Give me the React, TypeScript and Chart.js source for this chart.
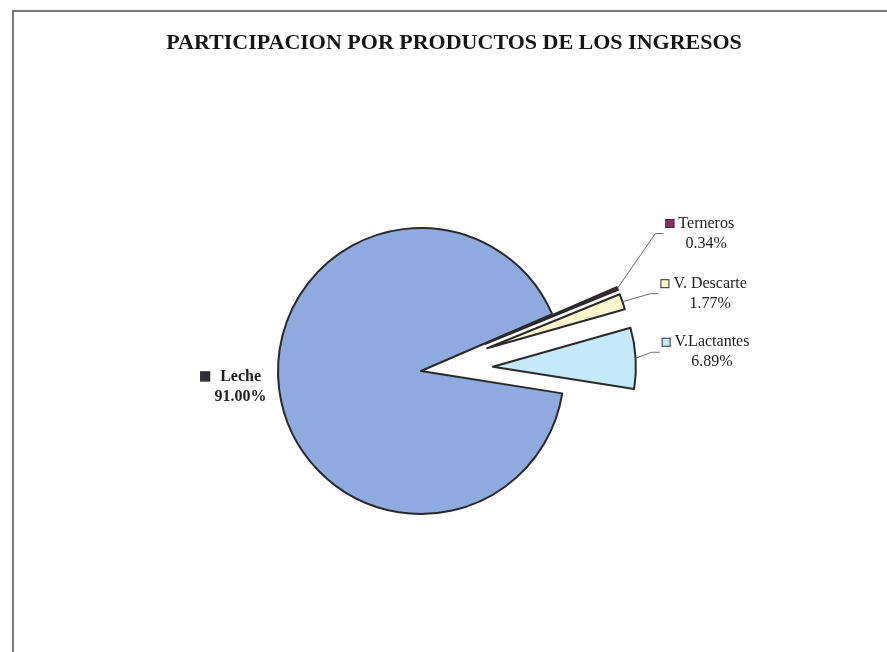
import React, { useEffect, useRef } from "react";
import { Chart, registerables } from "chart.js";

Chart.register(...registerables);

// ---- data ----
const TITLE = "PARTICIPACION POR PRODUCTOS DE LOS INGRESOS";
const categories = ["Leche", "Terneros", "V. Descarte", "V.Lactantes"];
const shares = [91.0, 0.34, 1.77, 6.89];

// ---- styles ----
const fillColors = ["#8FAADF", "#5A2A40", "#F9F7CB", "#C4E9F8"];
const keyColors = ["#2E2E36", "#8B3060", "#F9F7CB", "#C4E9F8"];
const explodePx = [0, 70, 70, 72];
const labelLayout = [
  { dx: -79, dy: -2.5, bold: true, leader: false },
  { dx: 48, dy: -55, bold: false, leader: true },
  { dx: 38, dy: -8, bold: false, leader: true },
  { dx: 26, dy: -6, bold: false, leader: true },
];

const FONT = '"Liberation Serif", "Times New Roman", serif';

const explodePlugin = {
  id: "explode",
  afterDatasetsUpdate(chart: any) {
    const meta = chart.getDatasetMeta(0);
    const ca = chart.chartArea;
    const cx = (ca.left + ca.right) / 2;
    const cy = (ca.top + ca.bottom) / 2;
    meta.data.forEach((arc: any, i: number) => {
      const e = explodePx[i] || 0;
      const mid = (arc.startAngle + arc.endAngle) / 2;
      arc.x = cx + Math.cos(mid) * e;
      arc.y = cy + Math.sin(mid) * e;
    });
  },
};

const decorPlugin = {
  id: "decor",
  beforeDraw(chart: any) {
    const ctx = chart.ctx;
    ctx.save();
    ctx.fillStyle = "#ffffff";
    ctx.fillRect(0, 0, chart.width, chart.height);
    ctx.strokeStyle = "#7a7a7a";
    ctx.lineWidth = 2;
    ctx.strokeRect(13, 11, chart.width + 40, chart.height + 40);
    ctx.restore();
  },
  afterDraw(chart: any) {
    const ctx = chart.ctx;
    ctx.save();
    // title
    ctx.fillStyle = "#161616";
    ctx.font = `bold 22px ${FONT}`;
    ctx.textAlign = "center";
    ctx.textBaseline = "middle";
    ctx.fillText(TITLE, 454, 43);

    const meta = chart.getDatasetMeta(0);
    meta.data.forEach((arc: any, i: number) => {
      const lay = labelLayout[i];
      const mid = (arc.startAngle + arc.endAngle) / 2;
      const ox = arc.x + Math.cos(mid) * arc.outerRadius;
      const oy = arc.y + Math.sin(mid) * arc.outerRadius;
      const lx = ox + lay.dx;
      const ly = oy + lay.dy;

      if (lay.leader) {
        ctx.strokeStyle = "#6a6a6a";
        ctx.lineWidth = 1;
        ctx.beginPath();
        ctx.moveTo(ox, oy);
        ctx.lineTo(lx - 10, ly);
        ctx.lineTo(lx - 2, ly);
        ctx.stroke();
      }

      const y1 = ly - 10;
      const y2 = ly + 10;
      const sq = lay.bold ? 10 : 9;
      ctx.fillStyle = keyColors[i];
      ctx.fillRect(lx, y1 - sq / 2, sq, sq);
      ctx.strokeStyle = "#333";
      ctx.lineWidth = 1;
      ctx.strokeRect(lx + 0.5, y1 - sq / 2 + 0.5, sq - 1, sq - 1);

      ctx.fillStyle = "#1e1e1e";
      ctx.font = `${lay.bold ? "bold " : ""}16px ${FONT}`;
      ctx.textAlign = "left";
      ctx.textBaseline = "middle";
      const nx = lx + (lay.bold ? 20 : 13);
      ctx.fillText(categories[i], nx, y1);
      const w = ctx.measureText(categories[i]).width;
      ctx.textAlign = "center";
      ctx.fillText(shares[i].toFixed(2) + "%", nx + w / 2, y2);
    });
    ctx.restore();
  },
};

export default function App() {
  const ref = useRef<HTMLCanvasElement | null>(null);

  useEffect(() => {
    if (!ref.current) return;
    const chart = new Chart(ref.current, {
      type: "pie",
      data: {
        labels: categories,
        datasets: [
          {
            data: shares,
            backgroundColor: fillColors,
            borderColor: "#2a2a2a",
            borderWidth: 2,
            borderJoinStyle: "round",
          } as any,
        ],
      },
      options: {
        responsive: false,
        animation: false,
        events: [],
        radius: 143,
        rotation: 99,
        layout: { padding: { left: 20, right: 65, top: 118, bottom: 28 } },
        plugins: {
          legend: { display: false },
          title: { display: false },
          tooltip: { enabled: false },
        },
      } as any,
      plugins: [explodePlugin, decorPlugin],
    });
    return () => chart.destroy();
  }, []);

  return (
    <canvas
      ref={ref}
      width={887}
      height={652}
      style={{ position: "fixed", left: 0, top: 0, width: 887, height: 652, display: "block" }}
    />
  );
}
